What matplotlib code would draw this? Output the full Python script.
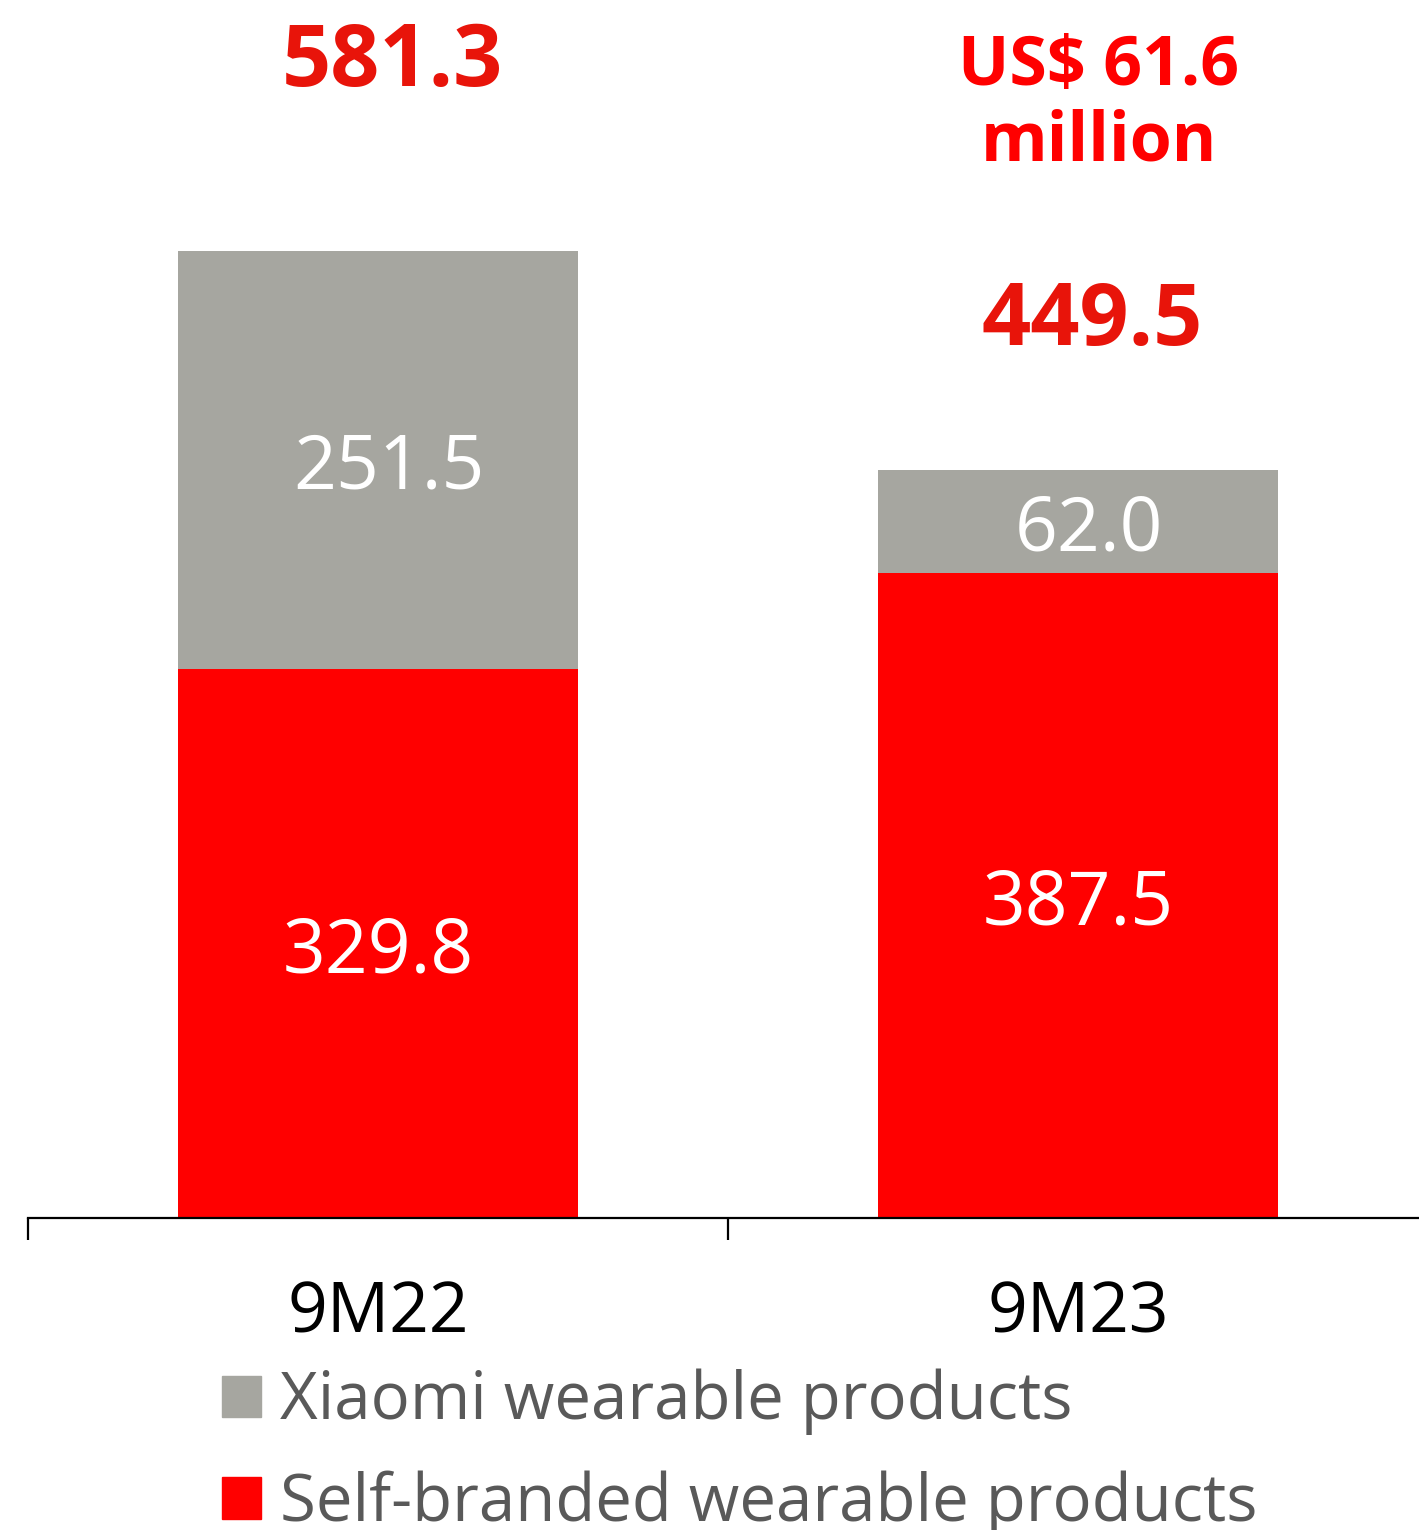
import matplotlib
matplotlib.use('Agg')
import matplotlib.pyplot as plt
from matplotlib.patches import Patch

plt.rcParams['font.family'] = ['Open Sans', 'DejaVu Sans']

periods = ['9M22', '9M23']
self_branded = [329.8, 387.5]
xiaomi = [251.5, 62.0]
totals = [581.3, 449.5]
total_labels = ['581.3', '449.5']
total_label_y = [694, 538]
usd_note = 'US$ 61.6\nmillion'
usd_note_y = 669

RED = '#FF0000'
GRAY = '#A6A6A0'
TOTAL_RED = '#E8140A'
LEGEND_GRAY = '#595959'

fig = plt.figure(figsize=(14.19, 15.30), dpi=100)
ax = fig.add_axes([28 / 1419, 312 / 1530, 1400 / 1419, 1218 / 1530])

x = list(range(len(periods)))
width = 0.571
ax.bar(x, self_branded, width, color=RED, label='Self-branded wearable products')
ax.bar(x, xiaomi, width, bottom=self_branded, color=GRAY, label='Xiaomi wearable products')

# segment values inside the bars, nudged down a little so the digits sit centred
for i in x:
    ax.annotate(f'{self_branded[i]:.1f}', (i, self_branded[i] / 2), xytext=(0, -6.5),
                textcoords='offset points', color='white', fontsize=54,
                ha='center', va='center')
    ax.annotate(f'{xiaomi[i]:.1f}', (i + 0.015, self_branded[i] + xiaomi[i] / 2),
                xytext=(0, -6.5), textcoords='offset points', color='white',
                fontsize=54, ha='center', va='center')

# totals above the bars
for i in x:
    ax.text(i + 0.02, total_label_y[i], total_labels[i], color=TOTAL_RED,
            fontsize=62, fontweight='bold', ha='center', va='center')
ax.text(1.03, usd_note_y, usd_note, color=RED, fontsize=49, fontweight='bold',
        ha='center', va='center', linespacing=1.13)

ax.set_xlim(-0.5, 1.5)
ax.set_ylim(0, 732)
for side in ['top', 'right', 'left']:
    ax.spines[side].set_visible(False)
ax.spines['bottom'].set_linewidth(1.6)
ax.set_yticks([])
ax.set_xticks(x)
ax.set_xticklabels(periods, fontsize=50, color='black')
ax.tick_params(axis='x', which='major', length=0, pad=44)
ax.set_xticks([-0.5, 0.5, 1.5], minor=True)
ax.tick_params(axis='x', which='minor', length=16, width=1.6, direction='out')

handles = [Patch(color=GRAY), Patch(color=RED)]
labels = ['Xiaomi wearable products', 'Self-branded wearable products']
fig.legend(handles, labels, loc='upper left', bbox_to_anchor=(163 / 1419, 1 - 1310 / 1530),
           frameon=False, fontsize=47, labelcolor=LEGEND_GRAY,
           handlelength=0.6, handleheight=0.6, handletextpad=0.3, labelspacing=0.54)

fig.savefig('out.png', dpi=100)
